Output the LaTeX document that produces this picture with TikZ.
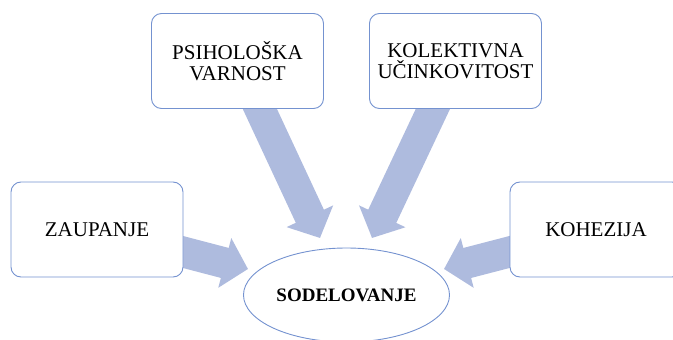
\documentclass[tikz,border=0pt]{standalone}
\usepackage{fontspec}
\setmainfont{Liberation Serif}
\usetikzlibrary{arrows.meta,shapes.geometric,backgrounds}
\definecolor{arrowfill}{RGB}{174,187,222}
\definecolor{boxline}{RGB}{116,146,208}
\tikzset{
  box/.style={draw=boxline, line width=0.9pt, fill=white, rounded corners=10pt,
    minimum width=172pt, minimum height=95pt, align=center, inner sep=2pt,
    font=\fontsize{21}{21}\selectfont},
  ell/.style={ellipse, draw=boxline, line width=0.9pt, fill=white,
    minimum width=206pt, minimum height=94pt, inner sep=0pt,
    font=\fontsize{19}{20}\selectfont\bfseries},
  blockarrow/.style={draw=arrowfill, line width=31pt,
    -{Triangle[width=50pt,length=24pt]}},
}
\begin{document}
\begin{tikzpicture}[x=1pt,y=-1pt]
\useasboundingbox (0,0) rectangle (673,340);
\clip (0,0) rectangle (673,340);
\node[box] (psi) at (237.5,61) {PSIHOLOŠKA\\VARNOST};
\node[box] (kol) at (455.5,61) {KOLEKTIVNA\\UČINKOVITOST};
\node[box] (zau) at (97,229.5) {ZAUPANJE};
\node[box] (koh) at (596,229.5) {KOHEZIJA};
\node[ell] (sod) at (346.5,295) {SODELOVANJE};
\coordinate (t1) at (320,238);
\coordinate (t2) at (372,238);
\coordinate (t3) at (248,269);
\coordinate (t4) at (444,269);
\begin{scope}[on background layer]
\draw[blockarrow] (psi.center) -- (t1);
\draw[blockarrow] (kol.center) -- (t2);
\draw[blockarrow] (zau.center) -- (t3);
\draw[blockarrow] (koh.center) -- (t4);
\end{scope}
\end{tikzpicture}
\end{document}
